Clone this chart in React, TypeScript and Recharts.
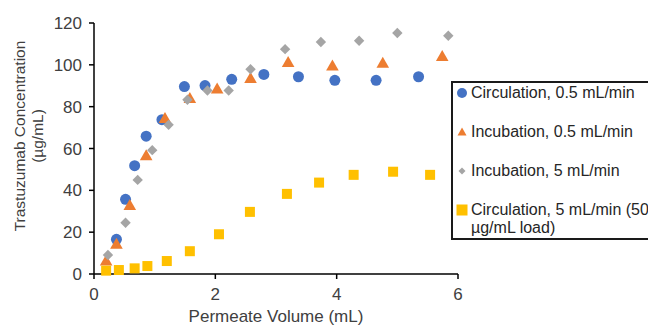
import { Scatter, ScatterChart, XAxis, YAxis } from 'recharts';

// Permeate volume (mL) and concentration (µg/mL) per series
const circ05X = [0.37, 0.52, 0.67, 0.86, 1.12, 1.49, 1.83, 2.27, 2.8, 3.37, 3.97, 4.65, 5.35];
const circ05Y = [16.6, 35.7, 51.8, 65.9, 73.8, 89.6, 90.1, 93.1, 95.4, 94.3, 92.6, 92.6, 94.3];

const incub05X = [0.2, 0.37, 0.59, 0.86, 1.17, 1.58, 2.03, 2.58, 3.2, 3.93, 4.76, 5.74];
const incub05Y = [6.2, 14.2, 32.7, 56.5, 74.3, 83.9, 88.4, 93.5, 101.1, 99.5, 100.8, 104.0];

const incub5X = [0.23, 0.52, 0.72, 0.96, 1.23, 1.54, 1.87, 2.22, 2.58, 3.15, 3.74, 4.37, 5.0, 5.84];
const incub5Y = [9.1, 24.5, 45.0, 59.2, 71.3, 83.3, 87.7, 87.7, 97.9, 107.5, 110.9, 111.5, 115.2, 113.9];

const circ5X = [0.2, 0.41, 0.67, 0.88, 1.2, 1.58, 2.06, 2.57, 3.18, 3.71, 4.28, 4.93, 5.54];
const circ5Y = [1.6, 1.9, 2.7, 3.8, 6.2, 10.9, 19.0, 29.7, 38.3, 43.7, 47.4, 48.9, 47.4];

const xTicks = [0, 2, 4, 6];
const yTicks = [0, 20, 40, 60, 80, 100, 120];

const BLUE = '#4472C4';
const ORANGE = '#ED7D31';
const GREY = '#A5A5A5';
const YELLOW = '#FFC000';
const FONT = '"Liberation Sans", Arial, sans-serif';
const TEXT = '#404040';

const zip = (xs: number[], ys: number[]) => xs.map((x, i) => ({ x, y: ys[i] }));

const circleShape = (p: any) => <circle cx={p.cx} cy={p.cy} r={5.5} fill={BLUE} />;
const triangleShape = (p: any) => (
    <path d={`M${p.cx},${p.cy - 6.5}L${p.cx + 6.3},${p.cy + 4.5}L${p.cx - 6.3},${p.cy + 4.5}Z`} fill={ORANGE} />
);
const diamondShape = (p: any) => (
    <path d={`M${p.cx},${p.cy - 5.2}L${p.cx + 5.2},${p.cy}L${p.cx},${p.cy + 5.2}L${p.cx - 5.2},${p.cy}Z`} fill={GREY} />
);
const squareShape = (p: any) => <rect x={p.cx - 5} y={p.cy - 5} width={10} height={10} fill={YELLOW} />;

const YLabel = () => (
    <text
        x={25}
        y={136}
        transform="rotate(-90 25 136)"
        textAnchor="middle"
        fontFamily={FONT}
        fontSize={15.5}
        fill={TEXT}
    >
        <tspan x={25} dy={0}>Trastuzumab Concentration</tspan>
        <tspan x={25} dy={18}>(µg/mL)</tspan>
    </text>
);

const legendItems = [
    { label: 'Circulation, 0.5 mL/min', marker: <circle cx={6} cy={6} r={5} fill={BLUE} /> },
    { label: 'Incubation, 0.5 mL/min', marker: <path d="M6,1.5L10.5,9.5L1.5,9.5Z" fill={ORANGE} /> },
    { label: 'Incubation, 5 mL/min', marker: <path d="M6,2.5L9.5,6L6,9.5L2.5,6Z" fill={GREY} /> },
    {
        label: (
            <>
                Circulation, 5 mL/min (50
                <br />
                µg/mL load)
            </>
        ),
        marker: <rect x={0.5} y={0.5} width={11} height={11} fill={YELLOW} />,
    },
];

export default function App() {
    return (
        <div style={{ position: 'absolute', left: 0, top: 0, width: 648, height: 326, overflow: 'hidden', background: '#fff' }}>
            <ScatterChart width={648} height={326} margin={{ top: 23, right: 190, bottom: 10, left: 0 }}>
                <XAxis
                    type="number"
                    dataKey="x"
                    domain={[0, 6]}
                    ticks={xTicks}
                    height={42}
                    tickSize={5}
                    tickMargin={9}
                    stroke="#000"
                    strokeWidth={1.5}
                    tick={{ fontSize: 17, fill: TEXT, fontFamily: FONT }}
                    label={{
                        value: 'Permeate Volume (mL)',
                        position: 'insideBottom',
                        offset: -6,
                        fontSize: 17,
                        fill: TEXT,
                        fontFamily: FONT,
                    }}
                />
                <YAxis
                    type="number"
                    dataKey="y"
                    domain={[0, 120]}
                    ticks={yTicks}
                    width={94}
                    tickSize={5}
                    tickMargin={7}
                    stroke="#000"
                    strokeWidth={1.5}
                    tick={{ fontSize: 17, fill: TEXT, fontFamily: FONT }}
                    label={<YLabel />}
                />
                <Scatter name="Circulation, 0.5 mL/min" data={zip(circ05X, circ05Y)} shape={circleShape} isAnimationActive={false} />
                <Scatter name="Incubation, 0.5 mL/min" data={zip(incub05X, incub05Y)} shape={triangleShape} isAnimationActive={false} />
                <Scatter name="Incubation, 5 mL/min" data={zip(incub5X, incub5Y)} shape={diamondShape} isAnimationActive={false} />
                <Scatter name="Circulation, 5 mL/min (50 µg/mL load)" data={zip(circ5X, circ5Y)} shape={squareShape} isAnimationActive={false} />
            </ScatterChart>
            <div
                style={{
                    position: 'absolute',
                    left: 451,
                    top: 81,
                    width: 210,
                    height: 154,
                    border: '2px solid #1a1a1a',
                    fontFamily: FONT,
                    fontSize: 16,
                    lineHeight: '18px',
                    color: '#262626',
                    paddingTop: 1,
                }}
            >
                {legendItems.map((item, i) => (
                    <div key={i} style={{ display: 'flex', alignItems: 'flex-start', marginBottom: 21, paddingLeft: 3 }}>
                        <svg width={12} height={12} style={{ marginTop: 3, marginRight: 3, flexShrink: 0 }}>
                            {item.marker}
                        </svg>
                        <span>{item.label}</span>
                    </div>
                ))}
            </div>
        </div>
    );
}
